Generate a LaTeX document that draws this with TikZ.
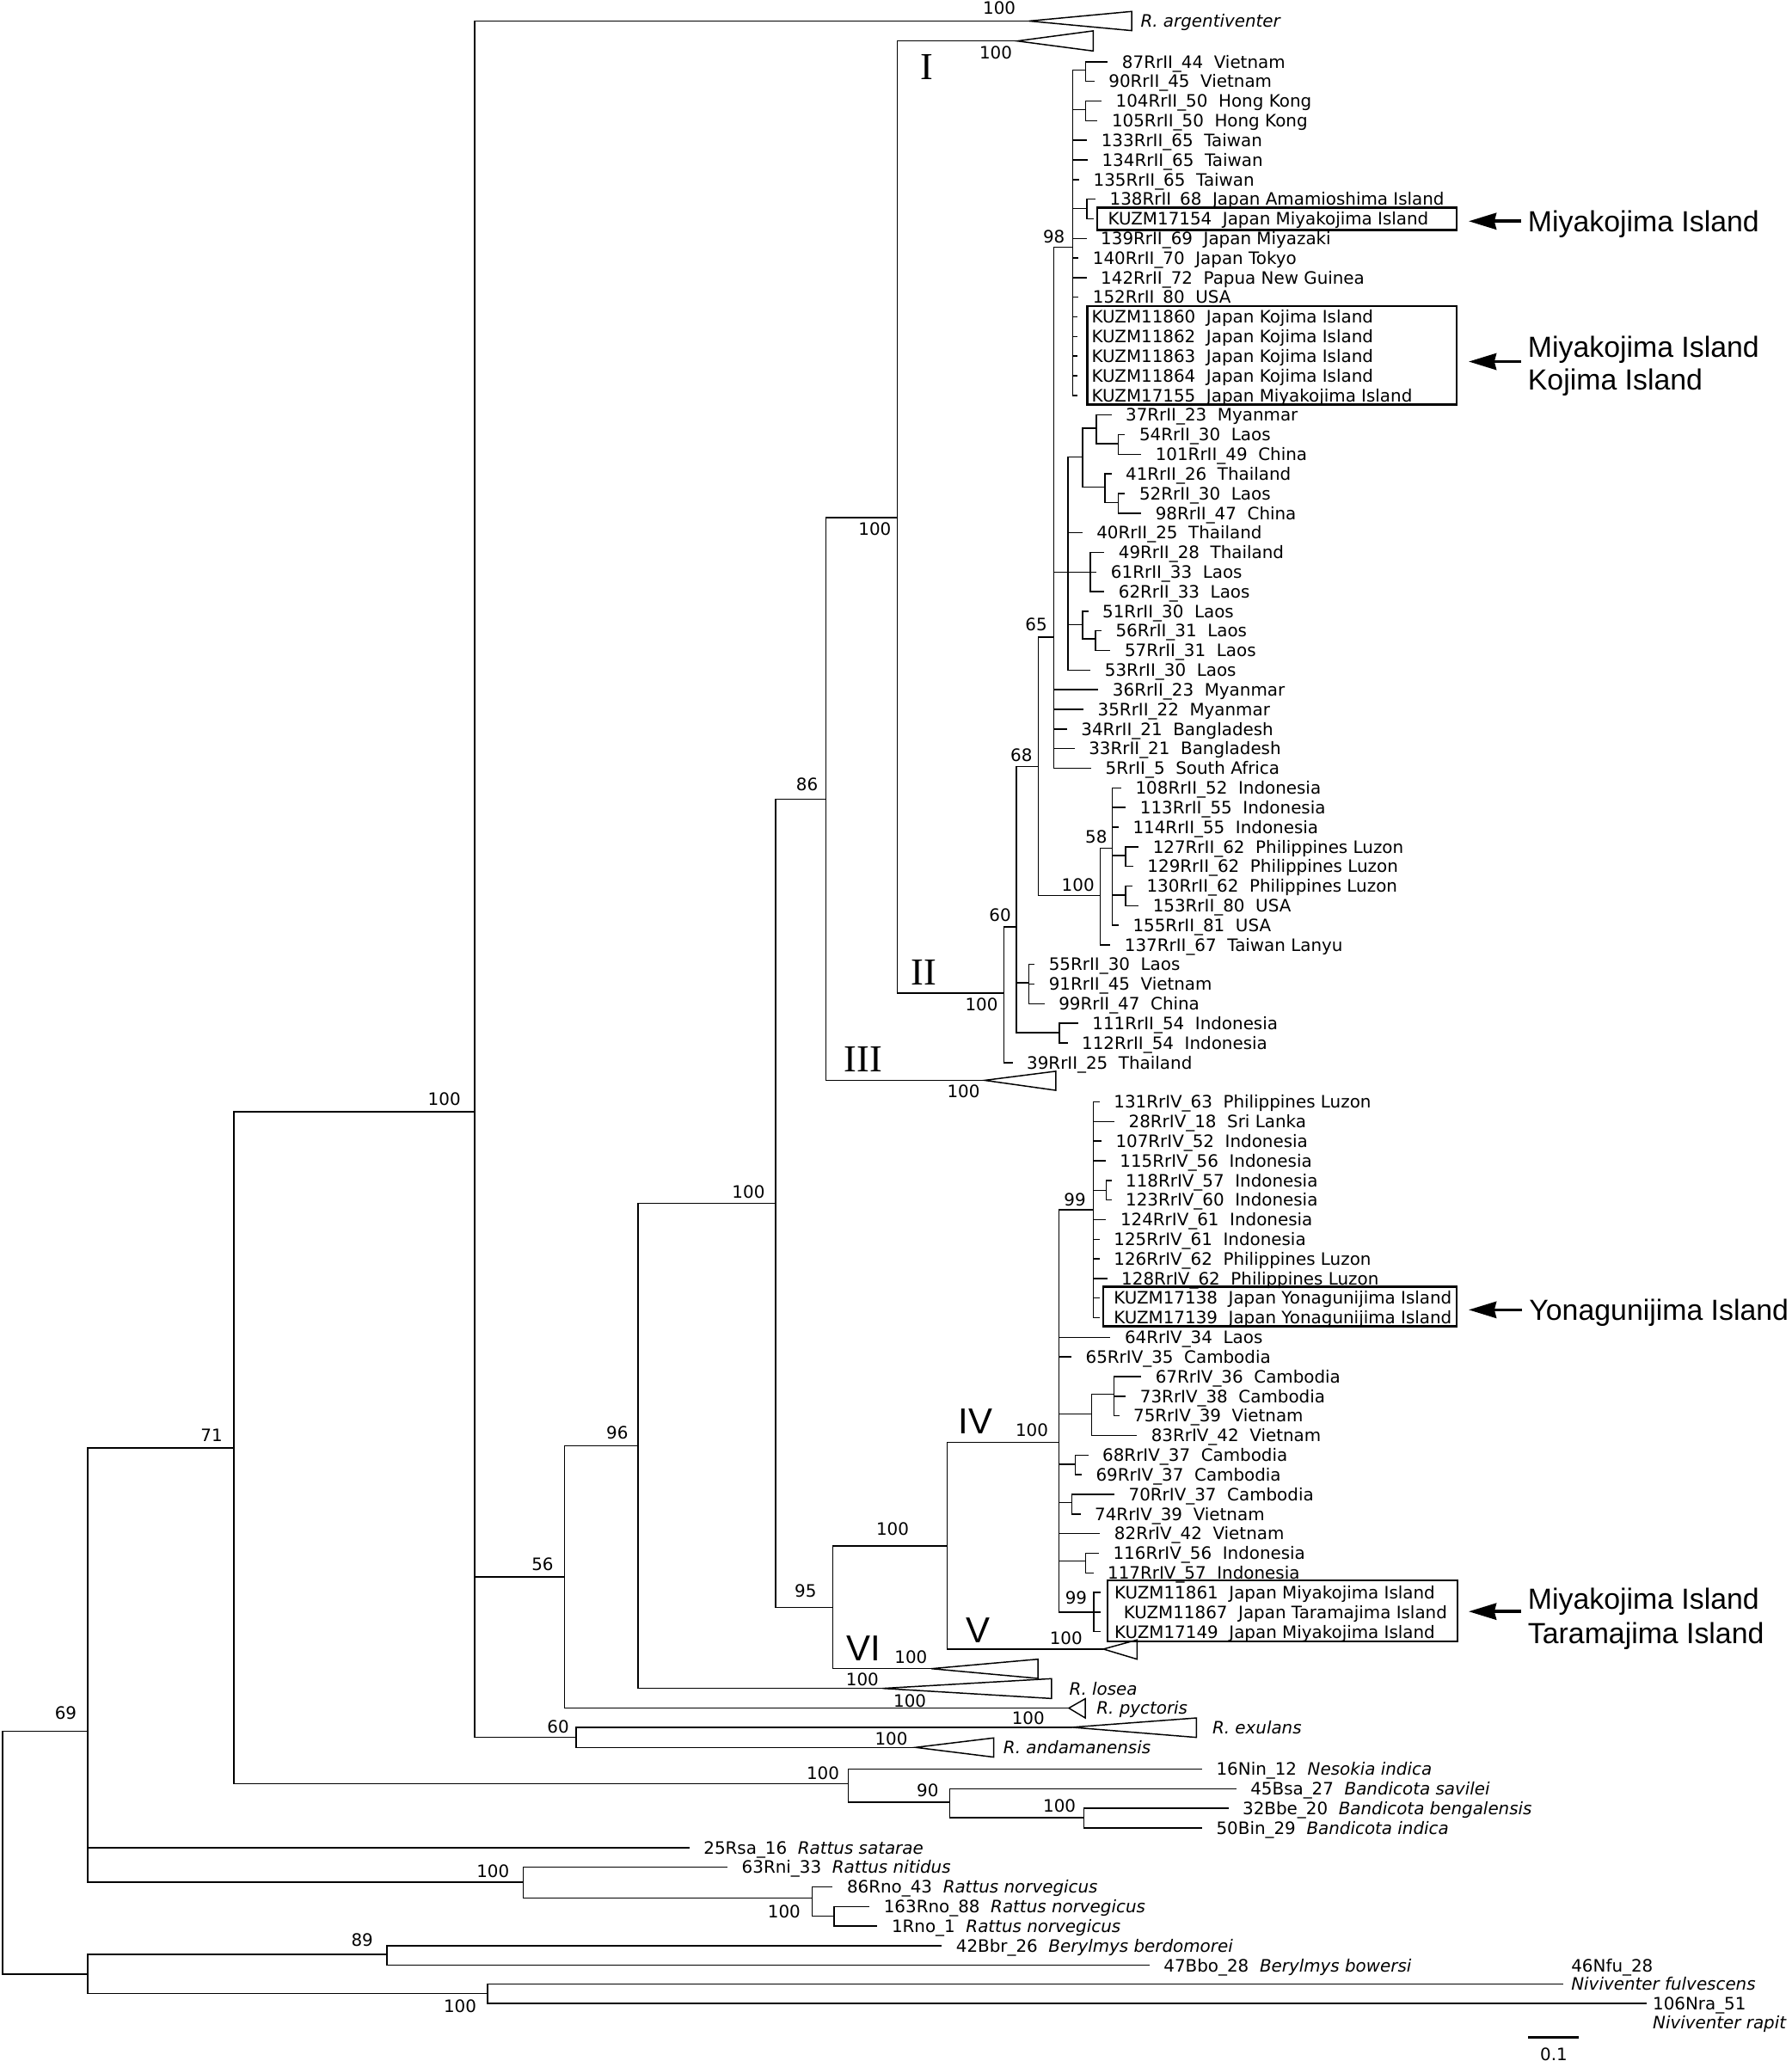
\documentclass[tikz,border=0pt]{standalone}
\usepackage{fontspec}
\setmainfont{DejaVu Sans}[ItalicFont={DejaVu Sans Oblique}]
\newfontfamily\bigsans{Liberation Sans}
\newfontfamily\romserif{Liberation Serif}
\usetikzlibrary{arrows.meta}
\tikzset{
  br/.style={line width=0.55pt},
  leaf/.style={anchor=west, inner xsep=0.21cm, inner ysep=0pt, text height=5.4pt, text depth=0pt, font=\fontsize{7.4}{8}\selectfont},
  boot/.style={inner sep=0pt, text height=5.4pt, text depth=0pt, font=\fontsize{7.4}{8}\selectfont},
  spc/.style={anchor=west, inner sep=0pt, text height=5.4pt, text depth=0pt, font=\fontsize{7.4}{8}\selectfont\itshape},
  numserif/.style={inner sep=0pt, text height=10.6pt, text depth=0pt, font=\fontsize{16.5}{17}\selectfont\romserif},
  numsans/.style={inner sep=0pt, text height=11.2pt, text depth=0pt, font=\fontsize{15.6}{16}\selectfont\bigsans},
  big/.style={anchor=west, inner sep=0pt, text height=9pt, text depth=0pt, font=\fontsize{12.6}{13}\selectfont\bigsans},
  bigarrow/.style={line width=1.35pt, -{Stealth[length=0.42cm,width=0.25cm,inset=0.03cm]}},
  boxst/.style={line width=0.9pt},
}
\newcommand\tleaf[5]{\node[leaf] (#1) at ({#3-10.5},{47+14.93*#4}) {#5}; \draw[br] (#2) |- (#1.west);}
\newcommand\tnode[4]{\coordinate (#1) at (#3,#4); \draw[br] (#2) |- (#1);}
\newcommand\tclade[7]{\coordinate (#1) at (#3,#4); \draw[br] (#2) |- (#1); \draw[br] (#1) -- (#5,#6) -- (#5,#7) -- cycle;}
\begin{document}
\begin{tikzpicture}[x=0.02cm, y=-0.02cm]
\useasboundingbox (0,0) rectangle (1363,1568);
% ---------- backbone ----------
\coordinate (root) at (2,1409.4);
\tnode{nA}{root}{66.7}{1317}
\tnode{nBN}{root}{66.7}{1501.8}
\tnode{nB}{nA}{178}{1101.5}
\tnode{nNT}{nA}{398}{1432}
\tnode{nC}{nB}{361}{845.7}
\tnode{nN1}{nB}{645.4}{1357}
\tnode{nI}{nC}{429.5}{1199.8}
\tnode{nJ}{nC}{438.2}{1321.8}
\tnode{nH}{nI}{485.4}{1099.8}
\tnode{nE}{nH}{590}{915.6}
\tnode{nD}{nE}{628.4}{608}
\tnode{nF}{nE}{633.4}{1222.8}
\tnode{nK}{nD}{682.5}{393.7}
\tnode{nII}{nK}{763.7}{755.4}
\tnode{n60}{nII}{773.3}{705.2}
\tnode{n68}{n60}{789.8}{583.2}
\tnode{n65}{n68}{801.8}{484.6}
\tnode{n98}{n65}{816.2}{187.9}
\tnode{nX}{n65}{812.5}{435.2}
\tnode{nHB}{n68}{837.1}{681.3}
\tnode{n58}{nHB}{846}{645.3}
\tnode{nP1}{n58}{856.4}{650.8}
\tnode{nP2}{n58}{856.4}{680.9}
\tnode{n55}{n60}{782.6}{747.8}
\tnode{n111}{n60}{806}{785.5}
\tnode{nG4}{nF}{720.6}{1176}
\tnode{nIV}{nG4}{805.5}{1097.2}
\tnode{n99a}{nIV}{831.7}{920.4}
\tnode{nU}{n99a}{841.6}{905.5}
\tnode{nQ}{nIV}{830.3}{1075.9}
\tnode{nQ2}{nQ}{847.5}{1060.6}
\tnode{nR}{nIV}{818.1}{1114}
\tnode{nS}{nIV}{815.4}{1143}
\tnode{nT}{nIV}{825.8}{1187.5}
\tnode{n99b}{nIV}{832.1}{1226.5}
\tnode{nN2}{nN1}{722.5}{1371}
\tnode{nN3}{nN2}{824.7}{1383}
\tnode{nNR}{nNT}{618}{1444}
\tnode{nNR2}{nNR}{634.5}{1457.9}
\tnode{n89}{nBN}{294.5}{1487}
\tnode{nNV}{nBN}{371}{1516.5}
\tnode{n87}{n98}{826}{53.4}
\tnode{n104}{n98}{826}{83.5}
\tnode{n138}{n98}{826.7}{158.5}
\tnode{nXa}{nX}{823.5}{347.7}
\tnode{nXb}{nXa}{833.9}{325.9}
\tnode{nXc}{nXb}{850.6}{337.5}
\tnode{nXd}{nXa}{840.7}{370.6}
\tnode{nXe}{nXd}{850.6}{382.5}
\tnode{nXf}{nX}{829.4}{435.2}
\tnode{nXg}{nX}{823.5}{475.3}
\tnode{nXh}{nXg}{833.4}{486}
% ---------- collapsed clades ----------
\tclade{targ}{nC}{782.8}{16}{861}{8.7}{23.3}
\tclade{tI}{nK}{773.8}{31.2}{831.6}{23.5}{38.8}
\tclade{tIII}{nD}{749}{821.9}{803.2}{815}{829.5}
\tclade{tV}{nG4}{839.4}{1254.6}{865}{1247.6}{1262.3}
\tclade{tVI}{nF}{708.5}{1269.5}{789.6}{1262.3}{1276.9}
\tclade{tlos}{nH}{671.5}{1284.5}{800}{1277.1}{1292.2}
\tclade{tpyc}{nI}{813.1}{1299.5}{825.6}{1292.4}{1307}
\tclade{texu}{nJ}{815.4}{1314.1}{910.2}{1307}{1321.8}
\tclade{tand}{nJ}{696.5}{1329.4}{756}{1322.2}{1336.8}
\node[spc] (largl) at (867.4,15.7) {R. argentiventer};
\node[spc] (llos) at (813.2,1284.6) {R. losea};
\node[spc] (lpyc) at (833.9,1299.5) {R. pyctoris};
\node[spc] (lexu) at (922,1314.3) {R. exulans};
\node[spc] (land) at (763,1329.2) {R. andamanensis};
% ---------- clade II leaves ----------
\tleaf{r0}{n87}{853.3}{0}{87RrII\_44~~Vietnam}
\tleaf{r1}{n87}{843.1}{1}{90RrII\_45~~Vietnam}
\tleaf{r2}{n104}{848.5}{2}{104RrII\_50~~Hong Kong}
\tleaf{r3}{n104}{845.5}{3}{105RrII\_50~~Hong Kong}
\tleaf{r4}{n98}{837.5}{4}{133RrII\_65~~Taiwan}
\tleaf{r5}{n98}{838}{5}{134RrII\_65~~Taiwan}
\tleaf{r6}{n98}{831.5}{6}{135RrII\_65~~Taiwan}
\tleaf{r7}{n138}{843.9}{7}{138RrII\_68~~Japan Amamioshima Island}
\tleaf{r8}{n138}{842.6}{8}{KUZM17154~~Japan Miyakojima Island}
\tleaf{r9}{n98}{837.1}{9}{139RrII\_69~~Japan Miyazaki}
\tleaf{r10}{n98}{831}{10}{140RrII\_70~~Japan Tokyo}
\tleaf{r11}{n98}{837.1}{11}{142RrII\_72~~Papua New Guinea}
\tleaf{r12}{n98}{831}{12}{152RrII\_80~~USA}
\tleaf{r13}{n98}{830.2}{13}{KUZM11860~~Japan Kojima Island}
\tleaf{r14}{n98}{830.2}{14}{KUZM11862~~Japan Kojima Island}
\tleaf{r15}{n98}{830.2}{15}{KUZM11863~~Japan Kojima Island}
\tleaf{r16}{n98}{830.2}{16}{KUZM11864~~Japan Kojima Island}
\tleaf{r17}{n98}{830.2}{17}{KUZM17155~~Japan Miyakojima Island}
\tleaf{r18}{nXb}{856}{18}{37RrII\_23~~Myanmar}
\tleaf{r19}{nXc}{866.4}{19}{54RrII\_30~~Laos}
\tleaf{r20}{nXc}{878.7}{20}{101RrII\_49~~China}
\tleaf{r21}{nXd}{856}{21}{41RrII\_26~~Thailand}
\tleaf{r22}{nXe}{866.4}{22}{52RrII\_30~~Laos}
\tleaf{r23}{nXe}{878.7}{23}{98RrII\_47~~China}
\tleaf{r24}{nX}{833.9}{24}{40RrII\_25~~Thailand}
\tleaf{r25}{nXf}{850.6}{25}{49RrII\_28~~Thailand}
\tleaf{r26}{nXf}{844.8}{26}{61RrII\_33~~Laos}
\tleaf{r27}{nXf}{850.6}{27}{62RrII\_33~~Laos}
\tleaf{r28}{nXg}{838.4}{28}{51RrII\_30~~Laos}
\tleaf{r29}{nXh}{848.4}{29}{56RrII\_31~~Laos}
\tleaf{r30}{nXh}{855.3}{30}{57RrII\_31~~Laos}
\tleaf{r31}{nX}{840.2}{31}{53RrII\_30~~Laos}
\tleaf{r32}{n65}{846.1}{32}{36RrII\_23~~Myanmar}
\tleaf{r33}{n65}{834.8}{33}{35RrII\_22~~Myanmar}
\tleaf{r34}{n65}{822.2}{34}{34RrII\_21~~Bangladesh}
\tleaf{r35}{n65}{828}{35}{33RrII\_21~~Bangladesh}
\tleaf{r36}{n65}{840.7}{36}{5RrII\_5~~South Africa}
\tleaf{r37}{n58}{863.5}{37}{108RrII\_52~~Indonesia}
\tleaf{r38}{n58}{867}{38}{113RrII\_55~~Indonesia}
\tleaf{r39}{n58}{861.5}{39}{114RrII\_55~~Indonesia}
\tleaf{r40}{nP1}{876.7}{40}{127RrII\_62~~Philippines Luzon}
\tleaf{r41}{nP1}{872.6}{41}{129RrII\_62~~Philippines Luzon}
\tleaf{r42}{nP2}{872}{42}{130RrII\_62~~Philippines Luzon}
\tleaf{r43}{nP2}{876.7}{43}{153RrII\_80~~USA}
\tleaf{r44}{n58}{861.5}{44}{155RrII\_81~~USA}
\tleaf{r45}{nHB}{855.2}{45}{137RrII\_67~~Taiwan Lanyu}
\tleaf{r46}{n55}{797.6}{46}{55RrII\_30~~Laos}
\tleaf{r47}{n55}{797.6}{47}{91RrII\_45~~Vietnam}
\tleaf{r48}{n55}{805.1}{48}{99RrII\_47~~China}
\tleaf{r49}{n111}{830.7}{49}{111RrII\_54~~Indonesia}
\tleaf{r50}{n111}{822.7}{50}{112RrII\_54~~Indonesia}
\tleaf{r51}{nII}{780.8}{51}{39RrII\_25~~Thailand}
% ---------- clade IV leaves ----------
\tleaf{r53}{n99a}{847}{53}{131RrIV\_63~~Philippines Luzon}
\tleaf{r54}{n99a}{858.3}{54}{28RrIV\_18~~Sri Lanka}
\tleaf{r55}{n99a}{848.4}{55}{107RrIV\_52~~Indonesia}
\tleaf{r56}{n99a}{851.6}{56}{115RrIV\_56~~Indonesia}
\tleaf{r57}{nU}{856}{57}{118RrIV\_57~~Indonesia}
\tleaf{r58}{nU}{856}{58}{123RrIV\_60~~Indonesia}
\tleaf{r59}{n99a}{852}{59}{124RrIV\_61~~Indonesia}
\tleaf{r60}{n99a}{847}{60}{125RrIV\_61~~Indonesia}
\tleaf{r61}{n99a}{847}{61}{126RrIV\_62~~Philippines Luzon}
\tleaf{r62}{n99a}{852.8}{62}{128RrIV\_62~~Philippines Luzon}
\tleaf{r63}{n99a}{847}{63}{KUZM17138~~Japan Yonagunijima Island}
\tleaf{r64}{n99a}{847}{64}{KUZM17139~~Japan Yonagunijima Island}
\tleaf{r65}{nIV}{855.3}{65}{64RrIV\_34~~Laos}
\tleaf{r66}{nIV}{825.6}{66}{65RrIV\_35~~Cambodia}
\tleaf{r67}{nQ2}{878.7}{67}{67RrIV\_36~~Cambodia}
\tleaf{r68}{nQ2}{867}{68}{73RrIV\_38~~Cambodia}
\tleaf{r69}{nQ2}{861.9}{69}{75RrIV\_39~~Vietnam}
\tleaf{r70}{nQ}{875.4}{70}{83RrIV\_42~~Vietnam}
\tleaf{r71}{nR}{838.4}{71}{68RrIV\_37~~Cambodia}
\tleaf{r72}{nR}{833.4}{72}{69RrIV\_37~~Cambodia}
\tleaf{r73}{nS}{858.3}{73}{70RrIV\_37~~Cambodia}
\tleaf{r74}{nS}{832.5}{74}{74RrIV\_39~~Vietnam}
\tleaf{r75}{nIV}{847.4}{75}{82RrIV\_42~~Vietnam}
\tleaf{r76}{nT}{846.5}{76}{116RrIV\_56~~Indonesia}
\tleaf{r77}{nT}{842.3}{77}{117RrIV\_57~~Indonesia}
\tleaf{r78}{n99b}{847.5}{78}{KUZM11861~~Japan Miyakojima Island}
\tleaf{r79}{n99b}{847.5}{79}{\hspace{4pt}KUZM11867~~Japan Taramajima Island}
\tleaf{r80}{n99b}{847.5}{80}{KUZM17149~~Japan Miyakojima Island}
% ---------- outgroup leaves ----------
\tleaf{r87}{nN1}{925}{87}{16Nin\_12~~\textit{Nesokia indica}}
\tleaf{r88}{nN2}{951}{88}{45Bsa\_27~~\textit{Bandicota savilei}}
\tleaf{r89}{nN3}{945}{89}{32Bbe\_20~~\textit{Bandicota bengalensis}}
\tleaf{r90}{nN3}{925}{90}{50Bin\_29~~\textit{Bandicota indica}}
\tleaf{r91}{nA}{535}{91}{25Rsa\_16~~\textit{Rattus satarae}}
\tleaf{r92}{nNT}{564}{92}{63Rni\_33~~\textit{Rattus nitidus}}
\tleaf{r93}{nNR}{644}{93}{86Rno\_43~~\textit{Rattus norvegicus}}
\tleaf{r94}{nNR2}{672}{94}{163Rno\_88~~\textit{Rattus norvegicus}}
\tleaf{r95}{nNR2}{678}{95}{1Rno\_1~~\textit{Rattus norvegicus}}
\tleaf{r96}{n89}{727}{96}{42Bbr\_26~~\textit{Berylmys berdomorei}}
\tleaf{r97}{n89}{885}{97}{47Bbo\_28~~\textit{Berylmys bowersi}}
\node[leaf, inner xsep=0.12cm] (nfu) at (1189,1509.5) {\textit{Niviventer fulvescens}};
\draw[br] (nNV) |- (nfu.west);
\node[leaf, inner xsep=0pt] (nfuid) at (1195,1495.8) {46Nfu\_28};
\node[leaf, inner xsep=0.08cm] (nra) at (1253,1524) {106Nra\_51};
\draw[br] (nNV) |- (nra.west);
\node[leaf, inner xsep=0pt] (nrasp) at (1257,1539) {\textit{Niviventer rapit}};
% ---------- bootstrap values ----------
\node[boot] (b1) at (50,1303) {69};
\node[boot] (b2) at (161,1092) {71};
\node[boot] (b3) at (338,836) {100};
\node[boot] (b4) at (412.7,1189.8) {56};
\node[boot] (b5) at (469.6,1090) {96};
\node[boot] (b6) at (569.4,906.5) {100};
\node[boot] (b7) at (614,597) {86};
\node[boot] (b8) at (665.5,402.4) {100};
\node[boot] (b9) at (612.8,1210) {95};
\node[boot] (b10) at (679,1163) {100};
\node[boot] (b11) at (760.2,6.1) {100};
\node[boot] (b12) at (757.5,39.9) {100};
\node[boot] (b13) at (760.8,696.1) {60};
\node[boot] (b14) at (746.7,764.1) {100};
\node[boot] (b15) at (777,574.4) {68};
\node[boot] (b16) at (788.3,475.3) {65};
\node[boot] (b17) at (801.8,179.9) {98};
\node[boot] (b18) at (833.9,636.6) {58};
\node[boot] (b19) at (820.1,673.2) {100};
\node[boot] (b20) at (733,830.2) {100};
\node[boot] (b21) at (817.7,912.4) {99};
\node[boot] (b22) at (785,1087.8) {100};
\node[boot] (b23) at (818.6,1215.8) {99};
\node[boot] (b24) at (811,1246.6) {100};
\node[boot] (b25) at (693,1260.5) {100};
\node[boot] (b26) at (656,1278) {100};
\node[boot] (b27) at (692.2,1293.8) {100};
\node[boot] (b28) at (782.2,1307.4) {100};
\node[boot] (b29) at (424.6,1313.7) {60};
\node[boot] (b30) at (678,1322.9) {100};
\node[boot] (b31) at (626,1349) {100};
\node[boot] (b32) at (705.7,1362) {90};
\node[boot] (b33) at (806,1374) {100};
\node[boot] (b34) at (375,1423.8) {100};
\node[boot] (b35) at (596.5,1454.4) {100};
\node[boot] (b36) at (275.5,1476) {89};
\node[boot] (b37) at (350,1526.6) {100};
% ---------- clade numerals ----------
\node[numserif] (cI) at (705,51) {I};
\node[numserif] (cII) at (702.6,740) {II};
\node[numserif] (cIII) at (656.8,806) {III};
\node[numsans] (cIV) at (742,1081) {IV};
\node[numsans] (cV) at (744,1240) {V};
\node[numsans] (cVI) at (656.8,1253.5) {VI};
% ---------- highlight boxes ----------
\draw[boxst] (834.8,158) rectangle (1108.2,175);
\draw[boxst] (827.1,232.8) rectangle (1108.2,307.8);
\draw[boxst] (839.3,978.9) rectangle (1108.2,1009);
\draw[boxst] (842.6,1202.3) rectangle (1108.8,1248.7);
% ---------- island call-outs ----------
\node[big, inner xsep=0.1cm] (L1) at (1157,168.3) {Miyakojima Island};
\coordinate (t1) at (1117.3,168.3);
\draw[bigarrow] (L1.west) -- (t1);
\node[big] (L2a) at (1162,263.8) {Miyakojima Island};
\node[big] (L2b) at (1162,288.9) {Kojima Island};
\coordinate (s2) at (1157,275.1);
\coordinate (t2) at (1117.3,275.1);
\draw[bigarrow] (s2) -- (t2);
\node[big, inner xsep=0.1cm] (L3) at (1158,996.5) {Yonagunijima Island};
\coordinate (t3) at (1117.3,996.5);
\draw[bigarrow] (L3.west) -- (t3);
\node[big] (L4a) at (1162,1216) {Miyakojima Island};
\node[big] (L4b) at (1162,1242.5) {Taramajima Island};
\coordinate (s4) at (1157,1226);
\coordinate (t4) at (1117.3,1226);
\draw[bigarrow] (s4) -- (t4);
% ---------- scale bar ----------
\coordinate (sb1) at (1162.6,1550);
\coordinate (sb2) at (1201,1550);
\draw[line width=0.8pt] (sb1) -- (sb2);
\node[boot] (sbl) at (1182,1563) {0.1};
\end{tikzpicture}
\end{document}
